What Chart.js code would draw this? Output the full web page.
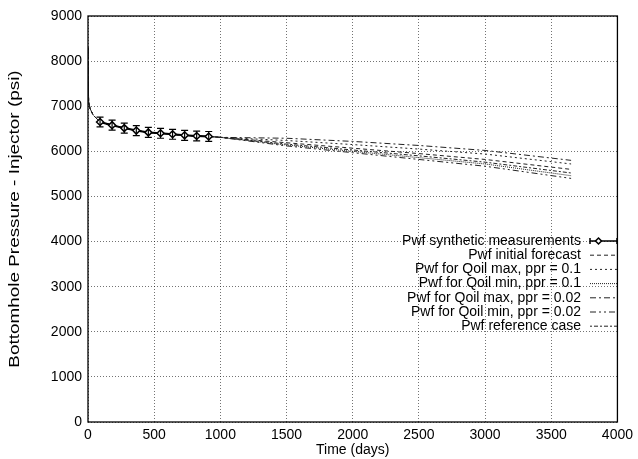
<!DOCTYPE html>
<html><head><meta charset="utf-8">
<script src="https://cdn.jsdelivr.net/npm/chart.js@4/dist/chart.umd.min.js"></script>
<style>html,body{margin:0;padding:0;background:#fff}#wrap{width:638px;height:459px}</style>
</head><body><div id="wrap"><canvas id="c" width="638" height="459"></canvas></div>
<script>
// ---- data ----
const measTimes  = [91, 182, 274, 365, 456, 548, 639, 730, 821, 912];
const measValues = [6650, 6580, 6515, 6460, 6420, 6400, 6378, 6355, 6340, 6330];
const measErrors = [110, 110, 110, 110, 110, 110, 110, 110, 110, 110];

const histTimes  = [0, 2, 5, 15, 40, 91, 182, 274, 365, 456, 548, 639, 730, 821, 912, 1000];
const histValues = [8300, 7500, 7100, 6950, 6800, 6650, 6580, 6515, 6460, 6420, 6400, 6378, 6355, 6340, 6330, 6310];

const forecastTimes = [1500, 2000, 2500, 3000, 3650];
const initialForecast = [6190, 6070, 5950, 5820, 5600];
const qoilMax01  = [6240, 6150, 6050, 5940, 5720];
const qoilMin01  = [6140, 6000, 5860, 5720, 5460];
const qoilMax002 = [6290, 6220, 6130, 6020, 5800];
const qoilMin002 = [6120, 5970, 5820, 5670, 5400];
const referenceCase = [6160, 6030, 5900, 5760, 5520];

const xTicks = [0, 500, 1000, 1500, 2000, 2500, 3000, 3500, 4000];
const yTicks = [0, 1000, 2000, 3000, 4000, 5000, 6000, 7000, 8000, 9000];

const xTitle = 'Time (days)';
const yTitle = 'Bottomhole Pressure - Injector (psi)';
const legendLabels = [
  'Pwf synthetic measurements',
  'Pwf initial forecast',
  'Pwf for Qoil max, ppr = 0.1',
  'Pwf for Qoil min, ppr = 0.1',
  'Pwf for Qoil max, ppr = 0.02',
  'Pwf for Qoil min, ppr = 0.02',
  'Pwf reference case'
];

// ---- build ----
const FONT = '"Liberation Sans", Arial, Helvetica, sans-serif';
function series(fc) {
  const pts = histTimes.map((t, i) => ({x: t, y: histValues[i]}));
  forecastTimes.forEach((t, i) => pts.push({x: t, y: fc[i]}));
  return pts;
}
const dashes = [[4,3],[2,3],[1,1],[6,3,2,3],[6,3,2,3,2,3],[2,2,4,2]];
const fcData = [initialForecast, qoilMax01, qoilMin01, qoilMax002, qoilMin002, referenceCase];

const datasets = [{
  label: legendLabels[0],
  data: measTimes.map((t, i) => ({x: t, y: measValues[i]})),
  borderColor: '#000', borderWidth: 2,
  pointStyle: 'rectRot', pointRadius: 3.5,
  pointBackgroundColor: '#fff', pointBorderColor: '#000', pointBorderWidth: 1.5,
  tension: 0, order: 0
}];
fcData.forEach((fc, k) => datasets.push({
  label: legendLabels[k + 1],
  data: series(fc),
  borderColor: '#222', borderWidth: 1, borderDash: dashes[k],
  pointRadius: 0, tension: 0, order: 1
}));

const errorBars = {
  id: 'errorBars',
  afterDatasetsDraw(chart) {
    const {ctx, scales: {x, y}} = chart;
    ctx.save();
    ctx.strokeStyle = '#000'; ctx.lineWidth = 1.2; ctx.setLineDash([]);
    measTimes.forEach((t, i) => {
      const px = x.getPixelForValue(t);
      const y1 = y.getPixelForValue(measValues[i] + measErrors[i]);
      const y2 = y.getPixelForValue(measValues[i] - measErrors[i]);
      ctx.beginPath();
      ctx.moveTo(px, y1); ctx.lineTo(px, y2);
      ctx.moveTo(px - 3.5, y1); ctx.lineTo(px + 3.5, y1);
      ctx.moveTo(px - 3.5, y2); ctx.lineTo(px + 3.5, y2);
      ctx.stroke();
    });
    ctx.restore();
  }
};

const frameAndLegend = {
  id: 'frameAndLegend',
  afterDraw(chart) {
    const {ctx, chartArea: a} = chart;
    ctx.save();
    ctx.setLineDash([]);
    ctx.strokeStyle = '#000'; ctx.lineWidth = 1.3;
    ctx.strokeRect(a.left, a.top, a.right - a.left, a.bottom - a.top);
    // y title (stretched along its length as in the reference)
    ctx.save();
    ctx.font = '14px ' + FONT;
    ctx.fillStyle = '#000';
    ctx.textAlign = 'center'; ctx.textBaseline = 'middle';
    ctx.translate(15, (a.top + a.bottom) / 2);
    ctx.rotate(-Math.PI / 2);
    ctx.scale(1.35, 1);
    ctx.fillText(yTitle, 0, 0);
    ctx.restore();
    // legend
    ctx.font = '14px ' + FONT;
    ctx.fillStyle = '#000';
    ctx.textAlign = 'right'; ctx.textBaseline = 'middle';
    const tx = 581, s0 = 590, s1 = 617, y0 = 241, dy = 14.2;
    legendLabels.forEach((lab, i) => {
      const yy = y0 + i * dy;
      ctx.fillText(lab, tx, yy);
      ctx.beginPath();
      if (i === 0) {
        ctx.lineWidth = 1.5; ctx.setLineDash([]);
        ctx.moveTo(s0, yy); ctx.lineTo(s1, yy);
        ctx.moveTo(s0, yy - 3); ctx.lineTo(s0, yy + 3);
        ctx.moveTo(s1, yy - 3); ctx.lineTo(s1, yy + 3);
        ctx.stroke();
        const cx = (s0 + s1) / 2 - 5;
        ctx.beginPath();
        ctx.moveTo(cx, yy - 3); ctx.lineTo(cx + 3, yy); ctx.lineTo(cx, yy + 3); ctx.lineTo(cx - 3, yy); ctx.closePath();
        ctx.fillStyle = '#fff'; ctx.fill(); ctx.stroke(); ctx.fillStyle = '#000';
      } else {
        ctx.lineWidth = 1; ctx.strokeStyle = '#222';
        ctx.setLineDash(dashes[i - 1]);
        ctx.moveTo(s0, yy); ctx.lineTo(s1, yy);
        ctx.stroke();
        ctx.strokeStyle = '#000';
      }
    });
    ctx.restore();
  }
};

new Chart(document.getElementById('c'), {
  type: 'line',
  data: {datasets},
  options: {
    responsive: false, devicePixelRatio: 1, animation: false,
    layout: {padding: {left: 0, top: 16, right: 16, bottom: 0}},
    plugins: {legend: {display: false}, tooltip: {enabled: false}},
    scales: {
      x: {
        type: 'linear', min: 0, max: 4000,
        afterFit(s) { s.height = 37; },
        afterBuildTicks(s) { s.ticks = xTicks.map(v => ({value: v})); },
        ticks: {font: {family: FONT, size: 14}, color: '#000', padding: 5, maxRotation: 0,
                callback: v => String(v)},
        grid: {color: 'rgba(0,0,0,0.55)', drawTicks: false, lineWidth: 1},
        border: {display: false, dash: [1, 2]},
        title: {display: true, text: xTitle, font: {family: FONT, size: 14}, color: '#000', padding: {top: 0, bottom: 0}}
      },
      y: {
        type: 'linear', min: 0, max: 9000,
        afterFit(s) { s.width = 88; },
        afterBuildTicks(s) { s.ticks = yTicks.map(v => ({value: v})); },
        ticks: {font: {family: FONT, size: 14}, color: '#000', padding: 6,
                callback: v => String(v)},
        grid: {color: 'rgba(0,0,0,0.55)', drawTicks: false, lineWidth: 1},
        border: {display: false, dash: [1, 2]},
        title: {display: false}
      }
    }
  },
  plugins: [errorBars, frameAndLegend]
});
</script></body></html>
